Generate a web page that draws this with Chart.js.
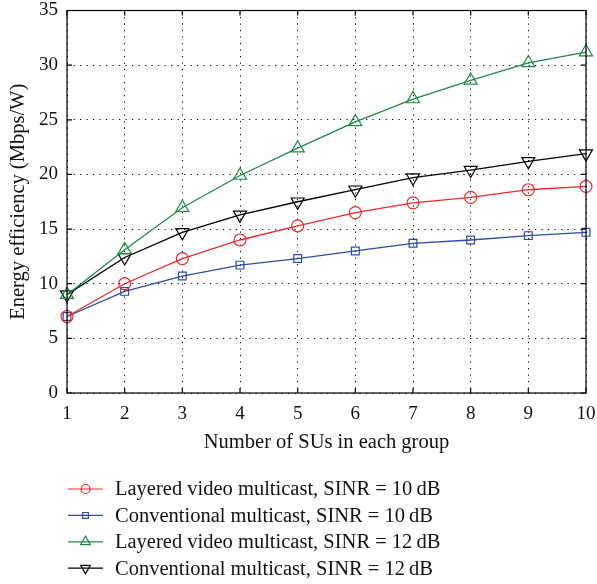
<!DOCTYPE html>
<html>
<head>
<meta charset="utf-8">
<script src="https://cdn.jsdelivr.net/npm/chart.js@4/dist/chart.umd.min.js"></script>
<style>
  html, body { margin: 0; padding: 0; background: #fff; }
  #wrap { width: 597px; height: 584px; position: relative; }
</style>
</head>
<body>
<div id="wrap"><canvas id="chart"></canvas></div>
<script>
// datos
const groupSizes = [1, 2, 3, 4, 5, 6, 7, 8, 9, 10];
const layered10 = [7.0, 10.0, 12.3, 14.0, 15.3, 16.5, 17.4, 17.9, 18.6, 18.9];
const conventional10 = [7.0, 9.3, 10.7, 11.7, 12.3, 13.0, 13.7, 14.0, 14.4, 14.7];
const layered12 = [9.0, 13.1, 16.95, 19.9, 22.4, 24.8, 26.9, 28.6, 30.2, 31.2];
const conventional12 = [9.0, 12.4, 14.7, 16.3, 17.5, 18.6, 19.7, 20.4, 21.2, 21.9];
const yTicks = [0, 5, 10, 15, 20, 25, 30, 35];

const serif = "'Liberation Serif', 'DejaVu Serif', serif";

const toPoints = (vals) => vals.map((v, i) => ({ x: groupSizes[i], y: v }));

const series = [
  { label: "Layered video multicast, SINR = 10\u2009dB", data: layered10, color: "#f0282a", style: "circle", radius: 6, rot: 0 },
  { label: "Conventional multicast, SINR = 10\u2009dB", data: conventional10, color: "#2c4aa8", style: "rect", radius: 5.5, rot: 0 },
  { label: "Layered video multicast, SINR = 12\u2009dB", data: layered12, color: "#1e8a48", style: "triangle", radius: 7.5, rot: 0 },
  { label: "Conventional multicast, SINR = 12\u2009dB", data: conventional12, color: "#000000", style: "triangle", radius: 7.5, rot: 180 },
];

// marco de los ejes con marcas hacia adentro
const boxPlugin = {
  id: "box",
  afterDraw(chart) {
    const { ctx, chartArea: a, scales } = chart;
    ctx.save();
    ctx.strokeStyle = "#000";
    ctx.lineWidth = 1.2;
    ctx.strokeRect(a.left, a.top, a.right - a.left, a.bottom - a.top);
    ctx.beginPath();
    groupSizes.forEach((v) => {
      const px = scales.x.getPixelForValue(v);
      ctx.moveTo(px, a.top); ctx.lineTo(px, a.top + 5);
      ctx.moveTo(px, a.bottom); ctx.lineTo(px, a.bottom - 5);
    });
    yTicks.forEach((v) => {
      const py = scales.y.getPixelForValue(v);
      ctx.moveTo(a.left, py); ctx.lineTo(a.left + 5, py);
      ctx.moveTo(a.right, py); ctx.lineTo(a.right - 5, py);
    });
    ctx.stroke();
    ctx.restore();
  },
};

// leyenda debajo del grafico: linea + marcador
const legendPlugin = {
  id: "bottomLegend",
  afterDraw(chart) {
    const { ctx } = chart;
    ctx.save();
    chart.data.datasets.forEach((ds, i) => {
      const y = 489 + i * 26.4;
      ctx.strokeStyle = ds.borderColor;
      ctx.lineWidth = 1.2;
      ctx.beginPath();
      ctx.moveTo(68, y); ctx.lineTo(103, y);
      ctx.stroke();
      ctx.fillStyle = "rgba(0,0,0,0)";
      Chart.helpers.drawPoint(ctx, {
        pointStyle: ds.pointStyle,
        rotation: ds.pointRotation,
        radius: ds.pointRadius * 0.75,
        borderWidth: 1.2,
      }, 85.5, y);
      ctx.fillStyle = "#111";
      ctx.font = "20.5px " + serif;
      ctx.textBaseline = "middle";
      ctx.fillText(ds.label, 115, y + 1);
    });
    ctx.restore();
  },
};

Chart.defaults.font.family = serif;
Chart.defaults.color = "#111";

const ctx = document.getElementById("chart");
new Chart(ctx, {
  type: "line",
  data: {
    datasets: series.map((s) => ({
      label: s.label,
      data: toPoints(s.data),
      borderColor: s.color,
      backgroundColor: "rgba(0,0,0,0)",
      pointBorderColor: s.color,
      pointBackgroundColor: "rgba(0,0,0,0)",
      pointStyle: s.style,
      pointRadius: s.radius,
      pointRotation: s.rot,
      pointBorderWidth: 1.2,
      borderWidth: 1.3,
      tension: 0,
      clip: false,
    })),
  },
  options: {
    responsive: true,
    maintainAspectRatio: false,
    animation: false,
    layout: { padding: { top: 10.5, right: 11, bottom: 129, left: 0 } },
    plugins: { legend: { display: false }, tooltip: { enabled: false } },
    scales: {
      x: {
        type: "linear",
        min: 1,
        max: 10,
        afterFit: (s) => { s.height = 62; s.paddingLeft = 0; s.paddingRight = 0; },
        afterBuildTicks: (s) => { s.ticks = groupSizes.map((v) => ({ value: v })); },
        ticks: { font: { size: 19 }, color: "#111", padding: 10 },
        grid: { color: "#000", lineWidth: 1, drawTicks: false },
        border: { display: false, dash: [1.2, 5.3] },
        title: { display: true, text: "Number of SUs in each group", font: { size: 20.5 }, color: "#111", padding: { top: 11, bottom: 0 } },
      },
      y: {
        min: 0,
        max: 35,
        afterFit: (s) => { s.width = 67; s.paddingTop = 0; s.paddingBottom = 0; },
        afterBuildTicks: (s) => { s.ticks = yTicks.map((v) => ({ value: v })); },
        ticks: { font: { size: 19 }, color: "#111", padding: 9 },
        grid: { color: "#000", lineWidth: 1, drawTicks: false },
        border: { display: false, dash: [1.2, 5.3] },
        title: { display: true, text: "Energy efficiency (Mbps/W)", font: { size: 20.5 }, color: "#111", padding: { top: 6, bottom: 2 } },
      },
    },
  },
  plugins: [boxPlugin, legendPlugin],
});
</script>
</body>
</html>
